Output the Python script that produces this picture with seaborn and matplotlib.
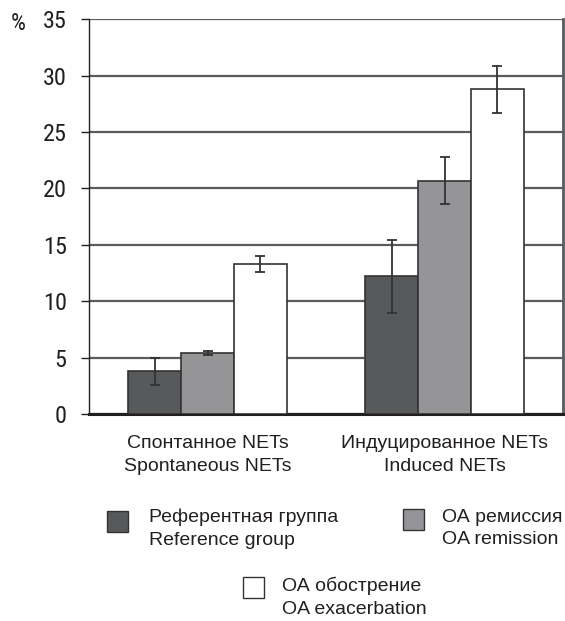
import matplotlib
matplotlib.use("Agg")
import matplotlib.pyplot as plt
from matplotlib.patches import Rectangle
import seaborn as sns
import pandas as pd

# Data
categories = ["Спонтанное NETs\nSpontaneous NETs", "Индуцированное NETs\nInduced NETs"]
groups = ["Референтная группа\nReference group", "ОА ремиссия\nOA remission", "ОА обострение\nOA exacerbation"]
reference_vals = [3.8, 12.2]
remission_vals = [5.4, 20.7]
exacerbation_vals = [13.3, 28.8]
reference_err = [1.2, 3.2]
remission_err = [0.2, 2.1]
exacerbation_err = [0.7, 2.1]
yticks = [0, 5, 10, 15, 20, 25, 30, 35]
colors = ["#58595b", "#949598", "#ffffff"]

values = [reference_vals, remission_vals, exacerbation_vals]
errors = [reference_err, remission_err, exacerbation_err]
df = pd.DataFrame({
    "category": [c for _ in groups for c in categories],
    "group": [g for g in groups for _ in categories],
    "value": [v for vals in values for v in vals],
})

sns.set_theme(style="white")
plt.rcParams["font.family"] = ["Liberation Sans", "DejaVu Sans"]
NARROW = ["Roboto Condensed", "DejaVu Sans"]

W, H = 565, 621
fig = plt.figure(figsize=(W / 100, H / 100), dpi=100)
ax = fig.add_axes([89 / W, 1 - 414 / H, 474 / W, (414 - 19.3) / H])

sns.barplot(data=df, x="category", y="value", hue="group", order=categories,
            hue_order=groups, palette=colors, width=0.67, errorbar=None,
            edgecolor="#333333", linewidth=1.2, legend=False, ax=ax, zorder=3)

# Error bars centred on each bar
for cont, errs, vals in zip(ax.containers, errors, values):
    xs = [b.get_x() + b.get_width() / 2 for b in cont]
    ax.errorbar(xs, vals, yerr=errs, fmt="none", ecolor="#333333",
                elinewidth=1.3, capsize=3.5, capthick=1.3, zorder=4)

ax.set_ylim(0, 35)
ax.set_xlim(-0.5, 1.5)
ax.set_yticks(yticks)
ax.set_yticklabels([str(t) for t in yticks], fontsize=17.5, family=NARROW)
ax.yaxis.grid(True, color="#5a5b5d", linewidth=1.6)
ax.set_axisbelow(True)
ax.tick_params(axis="y", which="major", left=True, length=6, width=1.0,
               color="#231f20", pad=10, labelcolor="#231f20")
ax.tick_params(axis="x", bottom=False, labelsize=14, pad=9, labelcolor="#231f20")
for lbl in ax.get_xticklabels():
    lbl.set_linespacing(1.45)
ax.set_xlabel("")
ax.set_ylabel("")

ax.spines["top"].set_visible(False)
ax.spines["left"].set_color("#231f20")
ax.spines["left"].set_linewidth(1.0)
ax.spines["bottom"].set_color("#231f20")
ax.spines["bottom"].set_linewidth(2.2)
ax.spines["right"].set_color("#5a5b5d")
ax.spines["right"].set_linewidth(2.0)

fig.text(18.5 / W, 1 - 24 / H, "%", fontsize=17, family=NARROW, ha="center",
         va="center", color="#231f20")

# Legend laid out as two items on the first row and one centred below
legend_box = [(107, 511), (403, 509), (243, 577)]
legend_text = [(149, 528.5), (442, 528.5), (282, 597.5)]
box = 21
for (bx, by), (tx, ty), g, c in zip(legend_box, legend_text, groups, colors):
    fig.add_artist(Rectangle((bx / W, 1 - (by + box) / H), box / W, box / H,
                             transform=fig.transFigure, facecolor=c,
                             edgecolor="#333333", linewidth=1.0))
    fig.text(tx / W, 1 - ty / H, g, fontsize=14, ha="left", va="center",
             linespacing=1.45, color="#231f20")

fig.savefig("out.png", dpi=100)
